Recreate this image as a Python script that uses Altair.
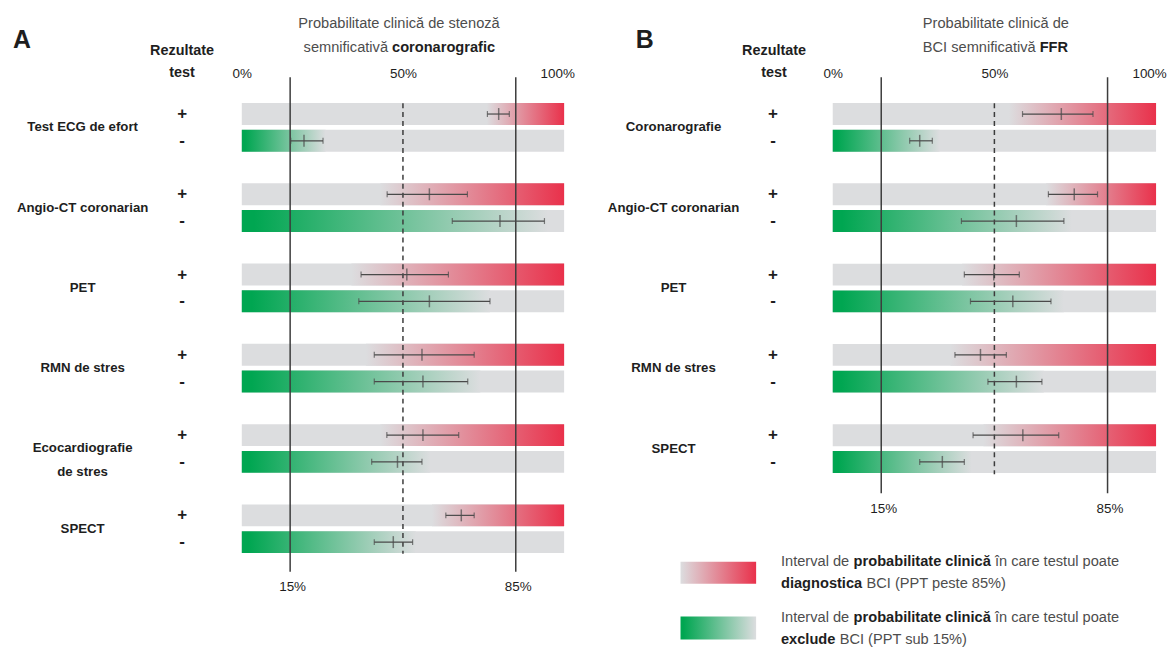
import altair as alt
import pandas as pd

FONT = "Liberation Sans, Arial, sans-serif"
LETTER_FONT = "Liberation Sans, Arial, sans-serif"
GRAY = "#dcdddf"
RED = "#e9314b"
GREEN = "#00a651"
LINE = "#3c3c3c"
EB = "#4a4a4a"
DARK = "#1e1e1e"
MID = "#4d4d4d"

# ---------------- Panel A data (coronarografie) ----------------
tests_a = ["Test ECG de efort", "Angio-CT coronarian", "PET", "RMN de stres",
           "Ecocardiografie\nde stres", "SPECT"]
a_pos_est = [79.7, 58.2, 51.2, 55.9, 56.2, 68.1]
a_pos_lo = [76.2, 45.1, 37.0, 41.1, 45.0, 63.3]
a_pos_hi = [83.0, 70.0, 64.1, 72.1, 67.3, 72.1]
a_pos_from = [76.0, 43.0, 34.0, 38.5, 43.0, 59.0]
a_neg_est = [19.3, 80.1, 58.2, 56.2, 48.3, 47.0]
a_neg_lo = [15.2, 65.3, 36.3, 41.1, 40.3, 41.1]
a_neg_hi = [25.2, 93.9, 77.0, 70.1, 55.9, 53.0]
a_neg_to = [26.0, 95.0, 77.0, 74.0, 58.5, 54.0]

# ---------------- Panel B data (FFR) ----------------
tests_b = ["Coronarografie", "Angio-CT coronarian", "PET", "RMN de stres", "SPECT"]
b_pos_est = [70.7, 74.7, 49.8, 45.7, 58.8]
b_pos_lo = [58.7, 66.7, 40.7, 37.8, 43.4]
b_pos_hi = [80.5, 81.9, 57.7, 53.7, 69.9]
b_pos_from = [54.5, 66.0, 40.0, 36.4, 46.6]
b_neg_est = [26.9, 56.8, 55.7, 56.8, 33.9]
b_neg_lo = [23.8, 39.8, 42.6, 48.0, 26.9]
b_neg_hi = [30.8, 71.5, 67.5, 64.7, 40.7]
b_neg_to = [33.0, 74.0, 71.5, 65.3, 43.0]

top_ticks = [0, 50, 100]
bottom_ticks = [15, 85]
threshold_lines = [15, 85]
midline = [50]

red_grad = alt.LinearGradient(
    gradient="linear", x1=0, x2=1, y1=0, y2=0,
    stops=[alt.GradientStop(offset=0, color=GRAY), alt.GradientStop(offset=1, color=RED)])
green_grad = alt.LinearGradient(
    gradient="linear", x1=0, x2=1, y1=0, y2=0,
    stops=[alt.GradientStop(offset=0, color=GREEN), alt.GradientStop(offset=0.04, color=GREEN),
           alt.GradientStop(offset=1, color=GRAY)])

PAD_INNER = 0.18


def slot_domain(n):
    d = []
    for i in range(n):
        d += [f"{i}+", f"{i}-"]
        if i < n - 1:
            d.append(f"{i}_")
    return d


def make_df(tests, pe, pl, ph, pf, ne, nl, nh, nt):
    rows = []
    for i, t in enumerate(tests):
        rows.append({"test": t, "sign": "+", "slot": f"{i}+", "est": pe[i], "lo": pl[i],
                     "hi": ph[i], "g0": pf[i], "g1": 100})
        rows.append({"test": t, "sign": "-", "slot": f"{i}-", "est": ne[i], "lo": nl[i],
                     "hi": nh[i], "g0": 0, "g1": nt[i]})
    return pd.DataFrame(rows)


def txt(text, x, y, size=14.7, weight="normal", align="center", color=MID, font=FONT):
    return alt.Chart(pd.DataFrame({"t": [text]})).mark_text(
        font=font, fontSize=size, fontWeight=weight, align=align, baseline="middle", color=color
    ).encode(x=alt.value(x), y=alt.value(y), text="t:N")


def panel(df, n_tests, width, height, pad_outer, align, dash_top, dash_bottom, extra, frame=None):
    dom = slot_domain(n_tests)
    step = height / (len(dom) - PAD_INNER + 2 * pad_outer)
    xs = alt.Scale(domain=[0, 100], nice=False, zero=False)
    ys = alt.Scale(domain=dom, paddingInner=PAD_INNER, paddingOuter=pad_outer, align=align)
    Y = alt.Y("slot:N", scale=ys, axis=None)
    base = alt.Chart(df)

    top_axis = alt.Axis(orient="top", values=top_ticks, labelExpr="datum.value + '%'", title=None,
                        domain=False, ticks=False, tickSize=0, grid=False, labelFont=FONT,
                        labelFontSize=13.5, labelColor=DARK, labelPadding=4, labelBaseline="middle",
                        labelFlush=False, zindex=2,
                        labelOffset={"condition": {"test": "datum.value == 100", "value": -7},
                                     "value": 0})
    bottom_axis = alt.Axis(orient="bottom", values=bottom_ticks, labelExpr="datum.value + '%'",
                           title=None, domain=False, ticks=False, tickSize=0, grid=False,
                           labelFont=FONT, labelFontSize=13.5, labelColor=DARK, labelPadding=15,
                           labelBaseline="middle", labelFlush=False, labelOffset=2, zindex=2)

    layers = []
    if frame is not None:
        layers.append(frame)
    bg = base.transform_calculate(full0="0", full1="100").mark_bar(color=GRAY).encode(
        x=alt.X("full0:Q", scale=xs, axis=top_axis), x2="full1:Q", y=Y)
    pos = base.transform_filter("datum.sign == '+'").mark_bar(color=red_grad).encode(
        x=alt.X("g0:Q", scale=xs, axis=None), x2="g1:Q", y=Y)
    neg = base.transform_filter("datum.sign == '-'").mark_bar(color=green_grad).encode(
        x=alt.X("g0:Q", scale=xs, axis=None), x2="g1:Q", y=Y)
    solid = alt.Chart(pd.DataFrame({"v": threshold_lines})).mark_rule(
        color=LINE, strokeWidth=1.5).encode(x=alt.X("v:Q", scale=xs, axis=bottom_axis))
    dashed = alt.Chart(pd.DataFrame({"v": midline})).mark_rule(
        color=LINE, strokeWidth=1.5, strokeDash=[5, 4]).encode(
        x=alt.X("v:Q", scale=xs, axis=None), y=alt.value(dash_top), y2=alt.value(dash_bottom))
    err = base.mark_rule(color=EB, strokeWidth=1.2).encode(
        x=alt.X("lo:Q", scale=xs, axis=None), x2="hi:Q", y=Y)
    caps = base.transform_fold(["lo", "hi"], as_=["k", "v"]).mark_tick(
        color=EB, thickness=1.2, size=6).encode(x=alt.X("v:Q", scale=xs, axis=None), y=Y)
    center = base.mark_tick(color=EB, thickness=1.5, size=12).encode(
        x=alt.X("est:Q", scale=xs, axis=None), y=Y)
    names = base.transform_filter("datum.sign == '+'").mark_text(
        font=FONT, fontSize=13.3, fontWeight="bold", color=DARK, dy=step / 2, lineBreak="\n",
        lineHeight=24, align="center", baseline="middle").encode(
        x=alt.value(-160), y=Y, text="test:N")
    signs = base.mark_text(font=FONT, fontSize=17, fontWeight="bold", color=DARK,
                           align="center", baseline="middle").encode(
        x=alt.value(-60), y=Y, text="sign:N")
    layers += [bg, pos, neg, solid, dashed, err, caps, center, names, signs]
    layers += extra
    return alt.layer(*layers).properties(width=width, height=height)


df_a = make_df(tests_a, a_pos_est, a_pos_lo, a_pos_hi, a_pos_from,
               a_neg_est, a_neg_lo, a_neg_hi, a_neg_to)
df_b = make_df(tests_b, b_pos_est, b_pos_lo, b_pos_hi, b_pos_from,
               b_neg_est, b_neg_lo, b_neg_hi, b_neg_to)

# tiny white anchor that fixes the panel's top-left extent
frame_a = alt.Chart(pd.DataFrame({"k": [0]})).mark_rect(color="white").encode(
    x=alt.value(-235), x2=alt.value(-234), y=alt.value(-68), y2=alt.value(-67))

extra_a = [
    txt("A", -221, -37, size=25, weight="bold", color=DARK, font=LETTER_FONT),
    txt("Rezultate", -60, -26, size=14.5, weight="bold", color=DARK),
    txt("test", -60, -4, size=14.5, weight="bold", color=DARK),
    txt("Probabilitate clinică de stenoză", 158, -54, color=MID),
    txt("semnificativă", 147, -29, align="right", color=MID),
    txt("coronarografic", 151, -29, weight="bold", align="left", color=DARK),
]

extra_b = [
    txt("B", -189, -37, size=25, weight="bold", color=DARK, font=LETTER_FONT),
    txt("Rezultate", -59, -26, size=14.5, weight="bold", color=DARK),
    txt("test", -59, -4, size=14.5, weight="bold", color=DARK),
    txt("Probabilitate clinică de", 164, -54, color=MID),
    txt("BCI semnificativă", 204, -29, align="right", color=MID),
    txt("FFR", 208, -29, weight="bold", align="left", color=DARK),
    alt.Chart(pd.DataFrame({"k": [0]})).mark_rect(color=red_grad).encode(
        x=alt.value(-153), x2=alt.value(-77), y=alt.value(487), y2=alt.value(509)),
    alt.Chart(pd.DataFrame({"k": [0]})).mark_rect(color=green_grad).encode(
        x=alt.value(-153), x2=alt.value(-77), y=alt.value(542), y2=alt.value(565)),
    txt("Interval de", -52, 487, align="left", color=MID),
    txt("probabilitate clinică", 21, 487, weight="bold", align="left", color=DARK),
    txt("în care testul poate", 163, 487, align="left", color=MID),
    txt("diagnostica", -52, 509, weight="bold", align="left", color=DARK),
    txt("BCI (PPT peste 85%)", 34, 509, align="left", color=MID),
    txt("Interval de", -52, 544, align="left", color=MID),
    txt("probabilitate clinică", 21, 544, weight="bold", align="left", color=DARK),
    txt("în care testul poate", 163, 544, align="left", color=MID),
    txt("exclude", -52, 566, weight="bold", align="left", color=DARK),
    txt("BCI (PPT sub 15%)", 7, 566, align="left", color=MID),
]

panel_a = panel(df_a, len(tests_a), 324, 497, 0.83, 0.58, 26, 479, extra_a, frame=frame_a)
panel_b = panel(df_b, len(tests_b), 325, 418, 0.86, 0.56, 26, 399, extra_b)

chart = alt.hconcat(panel_a, panel_b, spacing=270, bounds="flush").properties(
    padding=0
).configure_view(stroke=None)

chart.save("out.html", embed_options={"renderer": "svg", "actions": False})
